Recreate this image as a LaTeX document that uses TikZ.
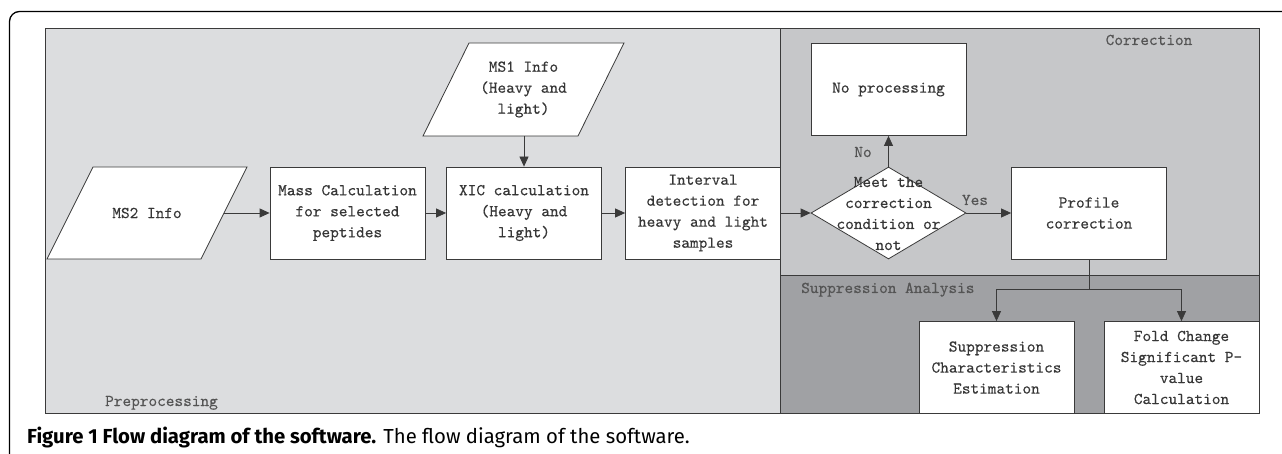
\documentclass[tikz,border=0pt]{standalone}
\usepackage{fontspec}
\newfontfamily\capfont{Fira Sans}
\newfontfamily\bmono[FakeBold=0.3]{lmmono10-regular.otf}
\usetikzlibrary{arrows.meta,shapes.geometric}
\definecolor{prec}{HTML}{DCDDDF}
\definecolor{corc}{HTML}{C6C7C9}
\definecolor{supc}{HTML}{A0A1A4}
\definecolor{linec}{HTML}{3A3A3A}
\definecolor{txtc}{HTML}{363636}
\begin{document}
\begin{tikzpicture}[x=1pt,y=-1pt,
  boxfont/.style={font={\bmono\fontsize{16.5}{21}\selectfont}, text=txtc},
  stepbox/.style={boxfont, draw=linec, fill=white, line width=0.8pt, minimum width=155pt, minimum height=92pt, inner sep=0pt, align=center},
  shapeline/.style={draw=linec, fill=white, line width=0.8pt},
  txt/.style={boxfont, align=center, inner sep=0pt},
  panel/.style={draw=linec, line width=0.9pt},
  lbl/.style={boxfont, text=txtc!85, inner sep=0pt},
  arr/.style={draw=linec, line width=0.8pt, -{Triangle[length=10pt,width=9pt]}}
]
\useasboundingbox (0,0) rectangle (1282,454);
% outer frame
\draw[line width=1.3pt, rounded corners=10pt] (9.5,454) -- (9.5,11.5) -- (1282,11.5);
% panels
\filldraw[panel, fill=prec] (45,28) rectangle (780,413);
\filldraw[panel, fill=corc] (780,28) rectangle (1259,275);
\filldraw[panel, fill=supc] (780,275) rectangle (1259,413);
\node[lbl, anchor=base west] (lpre) at (105,406) {Preprocessing};
\node[lbl, anchor=base] (lcor) at (1149,45) {Correction};
\node[lbl, anchor=base west] (lsup) at (801,293) {Suppression Analysis};
% MS2 parallelogram
\draw[shapeline] (47,259) -- (93,167) -- (247,167) -- (201,259) -- cycle;
\node[txt] (ms2) at (147,213) {MS2 Info};
\coordinate (ms2r) at (224,213);
% MS1 parallelogram
\draw[shapeline] (423,136) -- (469,43) -- (624,43) -- (578,136) -- cycle;
\node[txt] (ms1) at (523.5,89.5) {MS1 Info\\(Heavy and\\light)};
\coordinate (ms1b) at (524,136);
% boxes
\node[stepbox] (mass) at (347.5,213) {Mass Calculation\\for selected\\peptides};
\node[stepbox] (xic) at (524,213) {XIC calculation\\(Heavy and\\light)};
\node[stepbox] (intv) at (703,213) {Interval\\detection for\\heavy and light\\samples};
\node[diamond, shapeline, minimum width=155pt, minimum height=92pt, inner sep=0pt] (dec) at (888.5,213) {};
\node[txt] (dect) at (888.5,213.5) {Meet the\\correction\\condition or\\not};
\node[stepbox] (nop) at (888.5,89.5) {No processing};
\node[stepbox] (prof) at (1089,213) {Profile\\correction};
\node[stepbox] (supp) at (996.5,367.5) {Suppression\\Characteristics\\Estimation};
\node[stepbox] (fold) at (1181.5,367.5) {Fold Change\\Significant P-\\value\\Calculation};
% connectors
\draw[arr] (ms2r) -- (mass.west);
\draw[arr] (mass) -- (xic);
\draw[arr] (xic) -- (intv);
\draw[arr] (ms1b) -- (xic.north);
\draw[arr] (intv) -- (dec.west);
\draw[arr] (dec.north) -- (nop.south);
\draw[arr] (dec.east) -- (prof.west);
\coordinate (split) at (1089,289);
\draw[draw=linec, line width=0.8pt] (prof.south) -- (split);
\draw[arr] (split) -| (supp.north);
\draw[arr] (split) -| (fold.north);
\node[lbl, anchor=base] (lno) at (863,157) {No};
\node[lbl, anchor=base] (lyes) at (975,205) {Yes};
% caption
\node[anchor=base west, inner sep=0pt, font={\capfont\fontsize{20.3}{24}\selectfont}] (cap) at (27,443) {\textbf{Figure 1 Flow diagram of the software.} The flow diagram of the software.};
\end{tikzpicture}
\end{document}
